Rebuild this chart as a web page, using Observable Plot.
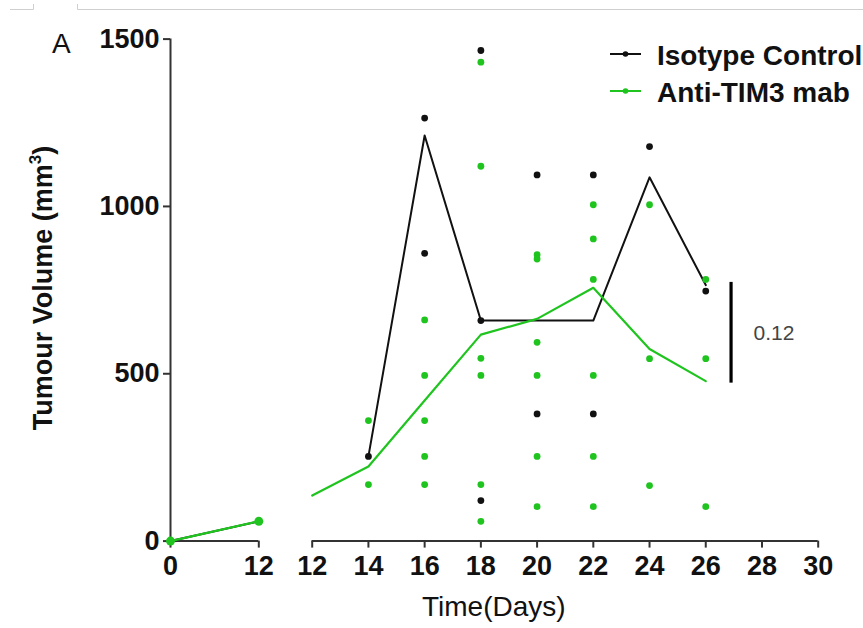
<!DOCTYPE html>
<html>
<head>
<meta charset="utf-8">
<script src="https://cdn.jsdelivr.net/npm/d3@7"></script>
<script src="https://cdn.jsdelivr.net/npm/@observablehq/plot@0.6"></script>
<style>
  html, body { margin: 0; padding: 0; background: #fff; }
  #fig { position: relative; width: 863px; height: 628px; overflow: hidden; font-family: "Liberation Sans", Arial, sans-serif; }
  #fig svg { position: absolute; left: 0; top: 0; }
</style>
</head>
<body>
<div id="fig"></div>
<script>
// Axis ticks
const yTicks = [0, 500, 1000, 1500];
const earlyTicks = [0, 12];
const lateTicks = [12, 14, 16, 18, 20, 22, 24, 26, 28, 30];

// Group means, days 0–12 (left axis segment)
const earlyDays = [0, 12];
const isotypeEarlyMean = [0, 59];
const antiEarlyMean = [0, 59];

// Group means, days 12–26 (right axis segment)
const isotypeMeanDays = [14, 16, 18, 20, 22, 24, 26];
const isotypeMean = [253, 1212, 659, 659, 659, 1087, 765];
const antiMeanDays = [12, 14, 16, 18, 20, 22, 24, 26];
const antiMean = [136, 223, 420, 617, 664, 757, 574, 478];

// Individual tumour volumes (mm³)
const isotypeDays    = [14, 16, 16, 18, 18, 18, 20, 20, 22, 22, 24, 26];
const isotypeVolumes = [253, 1264, 860, 1466, 659, 121, 1094, 380, 1094, 380, 1179, 747];
const antiDays    = [14, 14, 16, 16, 16, 16, 16, 18, 18, 18, 18, 18, 18,
                     20, 20, 20, 20, 20, 20, 22, 22, 22, 22, 22, 22, 24, 24, 24, 26, 26, 26];
const antiVolumes = [360, 169, 661, 495, 360, 253, 169, 1431, 1120, 546, 495, 169, 59,
                     856, 843, 594, 495, 253, 103, 1005, 903, 782, 495, 253, 103, 1005, 545, 166, 782, 545, 103];

// Comparison at day 26
const pBarDay = [26.9];
const pBarRange = [472, 773];
const pLabel = ["0.12"];
const pLabelDay = [27.7];
const pLabelVolume = [620];

const groups = ["Isotype Control", "Anti-TIM3 mab"];
const colors = ["#111111", "#1fc41f"];

const table = (xs, ys) => xs.map((x, i) => ({day: x, volume: ys[i]}));

const W = 863, H = 628;
const mTop = 38.6, mBottom = H - 540.6;
const axisColor = "#333";
const baseStyle = {fontFamily: "Liberation Sans, Arial, sans-serif", fontSize: "27px", fontWeight: "bold", background: "transparent", overflow: "visible"};

// Left segment: days 0–12
const early = Plot.plot({
  width: W, height: H,
  marginLeft: 170, marginRight: W - 258.3, marginTop: mTop, marginBottom: mBottom,
  style: baseStyle,
  x: {domain: [0, 12]},
  y: {domain: [0, 1500]},
  marks: [
    Plot.ruleX([0], {y1: 0, y2: 1500, stroke: axisColor, strokeWidth: 2}),
    Plot.ruleY([0], {x1: 0, x2: 12, stroke: axisColor, strokeWidth: 2}),
    Plot.axisY({ticks: yTicks, tickSize: 7, tickPadding: 4, tickFormat: d => String(d), stroke: axisColor, strokeWidth: 2, fill: "#111", label: null}),
    Plot.axisX({ticks: earlyTicks, tickSize: 7, tickPadding: 8, tickFormat: d => String(d), stroke: axisColor, strokeWidth: 2, fill: "#111", label: null}),
    Plot.line(table(earlyDays, isotypeEarlyMean), {x: "day", y: "volume", stroke: colors[0], strokeWidth: 2}),
    Plot.line(table(earlyDays, antiEarlyMean), {x: "day", y: "volume", stroke: colors[1], strokeWidth: 2.2}),
    Plot.dot(table(earlyDays, antiEarlyMean), {x: "day", y: "volume", r: 4.5, fill: colors[1]})
  ]
});

// Right segment: days 12–30, sharing the left segment's volume scale
const late = Plot.plot({
  width: W, height: H,
  marginLeft: 311.7, marginRight: W - 817.7, marginTop: mTop, marginBottom: mBottom,
  style: baseStyle,
  x: {domain: [12, 30]},
  y: {domain: [0, 1500], axis: null},
  marks: [
    Plot.ruleY([0], {x1: 12, x2: 30, stroke: axisColor, strokeWidth: 2}),
    Plot.axisX({ticks: lateTicks, tickSize: 7, tickPadding: 8, tickFormat: d => String(d), stroke: axisColor, strokeWidth: 2, fill: "#111", label: null}),
    Plot.line(table(isotypeMeanDays, isotypeMean), {x: "day", y: "volume", stroke: colors[0], strokeWidth: 2}),
    Plot.line(table(antiMeanDays, antiMean), {x: "day", y: "volume", stroke: colors[1], strokeWidth: 2.2}),
    Plot.dot(table(isotypeDays, isotypeVolumes), {x: "day", y: "volume", r: 3.4, fill: colors[0]}),
    Plot.dot(table(antiDays, antiVolumes), {x: "day", y: "volume", r: 3.4, fill: colors[1]}),
    Plot.ruleX(pBarDay, {x: d => d, y1: pBarRange[0], y2: pBarRange[1], stroke: "#000", strokeWidth: 3.2}),
    Plot.text(pLabel, {x: pLabelDay, y: pLabelVolume, text: d => d, textAnchor: "start", fontSize: 21, fontWeight: "normal", fill: "#444"})
  ]
});

const fig = document.getElementById("fig");
fig.appendChild(early);
fig.appendChild(late);

// Panel letter, axis titles and legend
const svg = d3.select(fig).append("svg")
  .attr("width", W).attr("height", H)
  .style("font-family", "Liberation Sans, Arial, sans-serif");

svg.append("path")
  .attr("d", "M10,9.5H33.5V4 M77.5,4V9.5H863")
  .attr("fill", "none").attr("stroke", "#cfcfcf").attr("stroke-width", 1);

svg.append("text").attr("x", 52).attr("y", 53)
  .attr("font-size", 28).attr("fill", "#111").text("A");

const yTitle = svg.append("text")
  .attr("transform", "translate(51.5,288) rotate(-90)")
  .attr("text-anchor", "middle")
  .attr("font-size", 27).attr("font-weight", "bold").attr("fill", "#111");
yTitle.append("tspan").text("Tumour Volume (mm");
yTitle.append("tspan").attr("font-size", 17).attr("dy", -11).text("3");
yTitle.append("tspan").attr("dy", 11).text(")");

svg.append("text").attr("x", 422).attr("y", 616)
  .attr("font-size", 28).attr("fill", "#111").text("Time(Days)");

const legend = svg.append("g");
const legendRows = [{line: 54, base: 64.5}, {line: 91, base: 101.5}];
groups.forEach((g, i) => {
  const row = legend.append("g");
  row.append("line").attr("x1", 610).attr("x2", 641)
    .attr("y1", legendRows[i].line).attr("y2", legendRows[i].line)
    .attr("stroke", colors[i]).attr("stroke-width", 2);
  row.append("circle").attr("cx", 625.5).attr("cy", legendRows[i].line).attr("r", 2.8).attr("fill", colors[i]);
  row.append("text").attr("x", 657).attr("y", legendRows[i].base)
    .attr("font-size", 28).attr("font-weight", "bold").attr("fill", "#111").text(g);
});
</script>
</body>
</html>
